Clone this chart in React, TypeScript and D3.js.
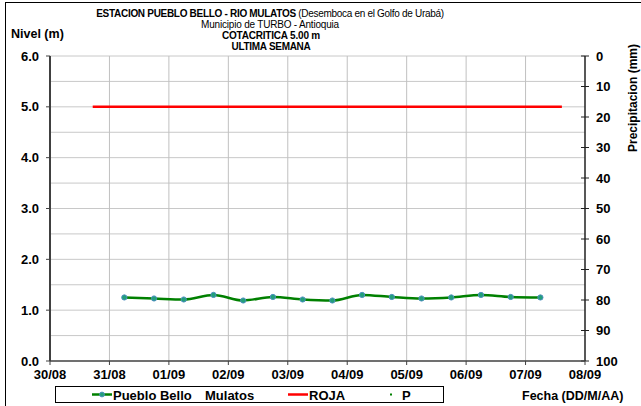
import React from "react";
import * as d3 from "d3";

const titleBold = "ESTACION PUEBLO BELLO -  RIO MULATOS";
const titleRest = " (Desemboca en el Golfo de Urabá)";
const subtitle = "Municipio de TURBO - Antioquia";
const cotaLabel = "COTACRITICA 5.00 m";
const periodLabel = "ULTIMA SEMANA";

const xTickLabels = ["30/08", "31/08", "01/09", "02/09", "03/09", "04/09", "05/09", "06/09", "07/09", "08/09"];
const xTickDates = [
  "2024-08-30T00:00Z", "2024-08-31T00:00Z", "2024-09-01T00:00Z", "2024-09-02T00:00Z", "2024-09-03T00:00Z",
  "2024-09-04T00:00Z", "2024-09-05T00:00Z", "2024-09-06T00:00Z", "2024-09-07T00:00Z", "2024-09-08T00:00Z",
];
const levelTimes = [
  "2024-08-31T06:00Z", "2024-08-31T18:00Z", "2024-09-01T06:00Z", "2024-09-01T18:00Z", "2024-09-02T06:00Z",
  "2024-09-02T18:00Z", "2024-09-03T06:00Z", "2024-09-03T18:00Z", "2024-09-04T06:00Z", "2024-09-04T18:00Z",
  "2024-09-05T06:00Z", "2024-09-05T18:00Z", "2024-09-06T06:00Z", "2024-09-06T18:00Z", "2024-09-07T06:00Z",
];
const levelValues = [1.25, 1.23, 1.21, 1.30, 1.19, 1.26, 1.21, 1.19, 1.30, 1.26, 1.23, 1.25, 1.30, 1.26, 1.25];
const rojaTimes = ["2024-08-30T17:15Z", "2024-09-07T14:40Z"];
const rojaValues = [5.0, 5.0];
const leftTicks = [0, 1, 2, 3, 4, 5, 6];
const gridValues = [0.5, 1, 1.5, 2, 2.5, 3, 3.5, 4, 4.5, 5, 5.5, 6];
const rightTicks = [0, 10, 20, 30, 40, 50, 60, 70, 80, 90, 100];

const FONT = "'Liberation Sans', Arial, sans-serif";

export default function App() {
  const left = 50, right = 585, top = 56, bottom = 361;
  const x = d3.scaleUtc()
    .domain([new Date(xTickDates[0]), new Date(xTickDates[xTickDates.length - 1])])
    .range([left, right]);
  const y = d3.scaleLinear().domain([0, 6]).range([bottom, top]);
  const yR = d3.scaleLinear().domain([0, 100]).range([top, bottom]);

  const levelData = levelTimes.map((t, i) => ({ t: new Date(t), v: levelValues[i] }));
  const rojaData = rojaTimes.map((t, i) => ({ t: new Date(t), v: rojaValues[i] }));
  const line = d3.line<{ t: Date; v: number }>()
    .x((d) => x(d.t))
    .y((d) => y(d.v))
    .curve(d3.curveMonotoneX);
  const straight = d3.line<{ t: Date; v: number }>().x((d) => x(d.t)).y((d) => y(d.v));

  return (
    <svg width={641} height={406} style={{ position: "absolute", left: 0, top: 0, background: "#fff" }} fontFamily={FONT}>
      <rect x={5.5} y={2.5} width={700} height={500} fill="#fff" stroke="#000" strokeWidth={1} />
      {/* Titles */}
      <text x={270} y={17} textAnchor="middle" fontSize={10} letterSpacing={-0.3}>
        <tspan fontWeight="bold">{titleBold}</tspan>
        <tspan>{titleRest}</tspan>
      </text>
      <text x={270} y={28} textAnchor="middle" fontSize={10} letterSpacing={-0.2}>{subtitle}</text>
      <text x={271} y={39} textAnchor="middle" fontSize={10} fontWeight="bold" letterSpacing={-0.2}>{cotaLabel}</text>
      <text x={271} y={50} textAnchor="middle" fontSize={10} fontWeight="bold" letterSpacing={-0.3}>{periodLabel}</text>
      <text x={11} y={38} fontSize={12.5} fontWeight="bold">Nivel (m)</text>

      {/* Gridlines */}
      {gridValues.map((g) => (
        <line key={"h" + g} x1={left} x2={right} y1={y(g)} y2={y(g)} stroke="#c8c8c8" strokeWidth={1} />
      ))}
      {xTickDates.slice(1, -1).map((d) => (
        <line key={"v" + d} x1={x(new Date(d))} x2={x(new Date(d))} y1={top} y2={bottom} stroke="#c0c0c0" strokeWidth={1} />
      ))}

      {/* Left axis */}
      <line x1={left} x2={left} y1={top} y2={bottom} stroke="#404040" strokeWidth={2} />
      {leftTicks.map((t) => (
        <g key={"lt" + t}>
          <line x1={left - 4} x2={left} y1={y(t)} y2={y(t)} stroke="#404040" strokeWidth={1} />
          <text x={39} y={y(t) + 4.5} textAnchor="end" fontSize={13} fontWeight="bold">{t.toFixed(1)}</text>
        </g>
      ))}

      {/* Right axis */}
      <line x1={right} x2={right} y1={top} y2={bottom} stroke="#202020" strokeWidth={1.5} />
      {rightTicks.map((t) => (
        <g key={"rt" + t}>
          <line x1={right - 4} x2={right + 4} y1={yR(t)} y2={yR(t)} stroke="#202020" strokeWidth={1} />
          <text x={596} y={yR(t) + 4.5} fontSize={13} fontWeight="bold">{t}</text>
        </g>
      ))}
      <text transform={`translate(637,98) rotate(-90)`} textAnchor="middle" fontSize={12} fontWeight="bold">
        Precipitacion (mm)
      </text>

      {/* X axis */}
      <line x1={left} x2={right} y1={bottom} y2={bottom} stroke="#404040" strokeWidth={1.5} />
      {xTickDates.map((d, i) => (
        <g key={"xt" + d}>
          <line x1={x(new Date(d))} x2={x(new Date(d))} y1={bottom} y2={bottom + 4} stroke="#404040" strokeWidth={1} />
          <text x={x(new Date(d))} y={379} textAnchor="middle" fontSize={13} fontWeight="bold">{xTickLabels[i]}</text>
        </g>
      ))}

      {/* Series */}
      <path d={straight(rojaData) || ""} fill="none" stroke="#ff0000" strokeWidth={2.5} />
      <path d={line(levelData) || ""} fill="none" stroke="#008000" strokeWidth={2.5} />
      {levelData.map((d, i) => (
        <circle key={"m" + i} cx={x(d.t)} cy={y(d.v)} r={2.6} fill="#22a07a" stroke="#4f8fc0" strokeWidth={1} />
      ))}

      {/* Legend */}
      <rect x={55.5} y={386.5} width={388} height={16} fill="#fff" stroke="#000" strokeWidth={1} />
      <line x1={92} x2={112} y1={394.5} y2={394.5} stroke="#008000" strokeWidth={2.5} />
      <circle cx={102} cy={394.5} r={2.4} fill="#22a07a" stroke="#4f8fc0" strokeWidth={1} />
      <text x={113} y={399.5} fontSize={13} fontWeight="bold">
        Pueblo Bello<tspan x={205}>Mulatos</tspan>
      </text>
      <line x1={288} x2={308} y1={394.5} y2={394.5} stroke="#ff0000" strokeWidth={2.5} />
      <text x={309} y={399.5} fontSize={13} fontWeight="bold">ROJA</text>
      <rect x={390} y={393.5} width={2} height={2} fill="#008000" />
      <text x={402} y={399.5} fontSize={13} fontWeight="bold">P</text>
      <text x={522} y={399.5} fontSize={12.5} fontWeight="bold">Fecha (DD/M/AA)</text>
    </svg>
  );
}
